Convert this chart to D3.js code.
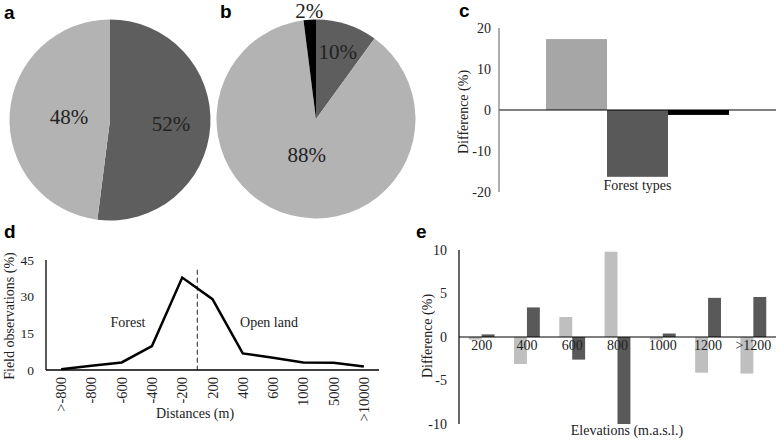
<!DOCTYPE html>
<html><head><meta charset="utf-8">
<script src="https://cdn.jsdelivr.net/npm/d3@7"></script>
<style>body{margin:0;background:#fff}svg{display:block}</style>
</head><body>
<svg id="c" width="778" height="440"></svg>
<script>
// ---- data ----
const pieALabels = ["52%", "48%"];
const pieAValues = [52, 48];
const pieBLabels = ["10%", "88%", "2%"];
const pieBValues = [10, 88, 2];
const forestTypeSeries = ["t1", "t2", "t3"];
const forestTypeDiff = [17.3, -16.3, -1.2];
const distCategories = [">-800", "-800", "-600", "-400", "-200", "200", "400", "600", "1000", "5000", ">10000"];
const distValues = [0.3, 1.7, 3.1, 9.8, 37.8, 29, 6.8, 5.0, 3.1, 3.0, 1.4];
const distTicks = [0, 15, 30, 45];
const elevCategories = ["200", "400", "600", "800", "1000", "1200", ">1200"];
const elevLight = [-0.3, -3.1, 2.3, 9.8, -0.3, -4.1, -4.2];
const elevDark = [0.3, 3.4, -2.6, -10, 0.4, 4.5, 4.6];
const elevTicks = [-10, -5, 0, 5, 10];
const diffTicks = [-20, -10, 0, 10, 20];

const svg = d3.select("#c");
const serif = "'Liberation Serif','Times New Roman',serif";
const sans = "'Liberation Sans',Arial,sans-serif";

function letter(t, x, y) {
  svg.append("text").attr("x", x).attr("y", y).text(t)
    .attr("font-family", sans).attr("font-weight", "bold").attr("font-size", 19).attr("fill", "#000");
}
function txt(t, x, y, size, anchor) {
  return svg.append("text").attr("x", x).attr("y", y).text(t)
    .attr("font-family", serif).attr("font-size", size).attr("text-anchor", anchor || "middle").attr("fill", "#222");
}
function vtxt(t, cx, cy, size) {
  return svg.append("text").attr("transform", `translate(${cx},${cy}) rotate(-90)`)
    .attr("dy", "0.35em").text(t).attr("font-family", serif).attr("font-size", size)
    .attr("text-anchor", "middle").attr("fill", "#222");
}

// ---- panel a ----
letter("a", 4, 19);
{
  const cx = 110, cy = 120, r = 100.5;
  const pie = d3.pie().sort(null)(pieAValues);
  const arc = d3.arc().innerRadius(0).outerRadius(r);
  const cols = ["#5e5e5e", "#b3b3b3"];
  const g = svg.append("g").attr("transform", `translate(${cx},${cy})`);
  g.selectAll("path").data(pie).join("path").attr("d", arc).attr("fill", (d, i) => cols[i]);
  const lr = [61, 41];
  pie.forEach((d, i) => {
    const a = (d.startAngle + d.endAngle) / 2;
    txt(pieALabels[i], cx + lr[i] * Math.sin(a), cy - lr[i] * Math.cos(a) + 7, 21);
  });
}

// ---- panel b ----
letter("b", 220, 18);
{
  const cx = 316, cy = 119, r = 99.5;
  const pie = d3.pie().sort(null)(pieBValues);
  const arc = d3.arc().innerRadius(0).outerRadius(r);
  const cols = ["#5e5e5e", "#b3b3b3", "#000"];
  const g = svg.append("g").attr("transform", `translate(${cx},${cy})`);
  g.selectAll("path").data(pie).join("path").attr("d", arc).attr("fill", (d, i) => cols[i]);
  const lr = [70, 37, 108];
  pie.forEach((d, i) => {
    const a = (d.startAngle + d.endAngle) / 2;
    txt(pieBLabels[i], cx + lr[i] * Math.sin(a), cy - lr[i] * Math.cos(a) + 7, 21);
  });
}

// ---- panel c ----
letter("c", 459, 17);
{
  const y = d3.scaleLinear().domain([-20, 20]).range([192, 28]);
  const x0 = d3.scaleBand().domain(["Forest types"]).range([499, 776]).paddingInner(0).paddingOuter(0.257);
  const x1 = d3.scaleBand().domain(forestTypeSeries).range([0, x0.bandwidth()]);
  const cols = ["#a6a6a6", "#595959", "#000"];
  svg.append("g").selectAll("rect").data(forestTypeDiff).join("rect")
    .attr("x", (d, i) => x0("Forest types") + x1(forestTypeSeries[i]))
    .attr("width", x1.bandwidth())
    .attr("y", d => y(Math.max(0, d)))
    .attr("height", d => Math.abs(y(d) - y(0)))
    .attr("fill", (d, i) => cols[i]);
  svg.append("line").attr("x1", 499).attr("x2", 776).attr("y1", y(0)).attr("y2", y(0)).attr("stroke", "#000").attr("stroke-width", 1.2);
  svg.append("line").attr("x1", 499).attr("x2", 499).attr("y1", y(20)).attr("y2", y(-20)).attr("stroke", "#777").attr("stroke-width", 1.2);
  diffTicks.forEach(t => txt(String(t), 491, y(t), 14, "end").attr("dy", "0.35em"));
  txt("Forest types", x0("Forest types") + x0.bandwidth() / 2, 190, 14);
  vtxt("Difference (%)", 463, 112, 14);
}

// ---- panel d ----
letter("d", 4, 238);
{
  const x = d3.scalePoint().domain(distCategories).range([46, 379]).padding(0.5);
  const y = d3.scaleLinear().domain([0, 45]).range([370, 260]);
  const xm = (x("-200") + x("200")) / 2;
  svg.append("line").attr("x1", xm).attr("x2", xm).attr("y1", y(41)).attr("y2", y(0))
    .attr("stroke", "#555").attr("stroke-width", 1.3).attr("stroke-dasharray", "5,3");
  const line = d3.line().x((d, i) => x(distCategories[i])).y(d => y(d));
  svg.append("path").attr("d", line(distValues)).attr("fill", "none").attr("stroke", "#000")
    .attr("stroke-width", 2.5).attr("stroke-linejoin", "miter");
  svg.append("line").attr("x1", 46).attr("x2", 379).attr("y1", y(0)).attr("y2", y(0)).attr("stroke", "#000").attr("stroke-width", 1.3);
  svg.append("line").attr("x1", 46).attr("x2", 46).attr("y1", y(45)).attr("y2", y(0)).attr("stroke", "#000").attr("stroke-width", 1.3);
  distTicks.forEach(t => txt(String(t), 34, y(t), 13.5, "end").attr("dy", "0.35em"));
  distCategories.forEach(c => {
    svg.append("text").attr("transform", `translate(${x(c)},377) rotate(-90)`).attr("dy", "0.35em")
      .attr("text-anchor", "end").attr("font-family", serif).attr("font-size", 14.5).attr("fill", "#222").text(c);
  });
  txt("Distances (m)", 195, 418, 14);
  vtxt("Field observations (%)", 9, 316, 14);
  txt("Forest", 128, 327, 14);
  txt("Open land", 269, 327, 14);
}

// ---- panel e ----
letter("e", 416, 238);
{
  const y = d3.scaleLinear().domain([-10, 10]).range([424, 250]);
  const x0 = d3.scaleBand().domain(elevCategories).range([459, 776]).paddingInner(0.43).paddingOuter(0.215);
  const x1 = d3.scaleBand().domain(["light", "dark"]).range([0, x0.bandwidth()]);
  const series = [{k: "light", v: elevLight, c: "#bfbfbf"}, {k: "dark", v: elevDark, c: "#595959"}];
  series.forEach(s => {
    svg.append("g").selectAll("rect").data(s.v).join("rect")
      .attr("x", (d, i) => x0(elevCategories[i]) + x1(s.k))
      .attr("width", x1.bandwidth())
      .attr("y", d => y(Math.max(0, d)))
      .attr("height", d => Math.abs(y(d) - y(0)))
      .attr("fill", s.c);
  });
  svg.append("line").attr("x1", 459).attr("x2", 776).attr("y1", y(0)).attr("y2", y(0)).attr("stroke", "#000").attr("stroke-width", 1.2);
  svg.append("line").attr("x1", 459).attr("x2", 459).attr("y1", y(10)).attr("y2", y(-10)).attr("stroke", "#000").attr("stroke-width", 1.2);
  elevTicks.forEach(t => txt(String(t), 447, y(t), 14, "end").attr("dy", "0.35em"));
  elevCategories.forEach(c => txt(c, x0(c) + x0.bandwidth() / 2, y(0) + 13, 14));
  txt("Elevations (m.a.s.l.)", 627, 435, 14);
  vtxt("Difference (%)", 427, 336, 14);
}
</script>
</body></html>
